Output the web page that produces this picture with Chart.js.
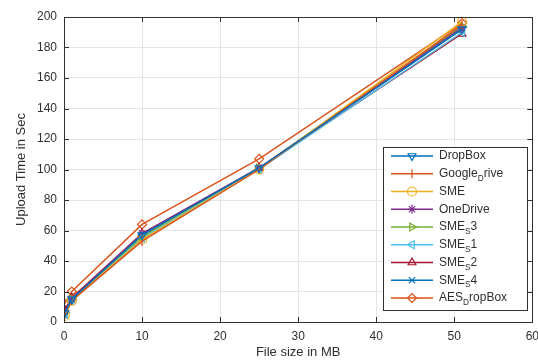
<!DOCTYPE html>
<html>
<head>
<meta charset="utf-8">
<script src="https://cdn.jsdelivr.net/npm/chart.js@4"></script>
<style>
  html, body { margin:0; padding:0; background:#fff; }
  #wrap { width:538px; height:360px; }
</style>
</head>
<body>
<div id="wrap"><canvas id="chart"></canvas></div>
<script>
// file sizes (MB)
const fileSizes = [0.1, 1, 10, 25, 51];
// series labels, "_{x}" marks a subscript
const seriesNames = ['DropBox', 'Google_{D}rive', 'SME', 'OneDrive', 'SME_{S}3', 'SME_{S}1', 'SME_{S}2', 'SME_{S}4', 'AES_{D}ropBox'];
const dropBox   = [6, 15, 57, 101, 192];
const googleD   = [5, 14, 53, 100, 195];
const sme       = [4, 14, 54, 100, 197];
const oneDrive  = [7, 15, 58, 101, 193];
const smeS3     = [6, 15, 56, 101, 194];
const smeS1     = [5, 14, 55, 100, 190];
const smeS2     = [8, 16, 58, 101, 189];
const smeS4     = [5, 15, 57, 101, 192];
const aesDrop   = [12, 20, 64, 107, 196];
const xTicks = [0, 10, 20, 30, 40, 50, 60];
const yTicks = [0, 20, 40, 60, 80, 100, 120, 140, 160, 180, 200];

const seriesValues = [dropBox, googleD, sme, oneDrive, smeS3, smeS1, smeS2, smeS4, aesDrop];
const colors = ['#0072BD','#D95319','#EDB120','#7E2F8E','#77AC30','#4DBEEE','#A2142F','#0072BD','#D95319'];
const markers = [
  {style:'triangle', rot:180}, {style:'line', rot:90}, {style:'circle', rot:0},
  {style:'star', rot:0}, {style:'triangle', rot:90}, {style:'triangle', rot:-90},
  {style:'triangle', rot:0}, {style:'crossRot', rot:0}, {style:'rectRot', rot:0}
];

const axisColor = '#303030';
const FONT = 'Helvetica, Arial, "Liberation Sans", sans-serif';

const datasets = seriesValues.map((vals, i) => ({
  label: seriesNames[i],
  data: vals.map((v, j) => ({x: fileSizes[j], y: v})),
  borderColor: colors[i],
  backgroundColor: 'rgba(0,0,0,0)',
  borderWidth: 1.4,
  pointStyle: markers[i].style,
  rotation: markers[i].rot,
  pointRadius: 4.5,
  pointBorderWidth: 1.2,
  pointBorderColor: colors[i],
  pointBackgroundColor: 'rgba(0,0,0,0)',
  showLine: true,
  tension: 0
}));

// draws text with "_{..}" subscripts
function drawRich(ctx, str, x, y, size) {
  const parts = str.split(/(_\{[^}]*\})/);
  parts.forEach(p => {
    if (!p) return;
    if (p.startsWith('_{')) {
      const t = p.slice(2, -1);
      ctx.font = (size * 0.7) + 'px ' + FONT;
      ctx.fillText(t, x, y + size * 0.4);
      x += ctx.measureText(t).width;
    } else {
      ctx.font = size + 'px ' + FONT;
      ctx.fillText(p, x, y);
      x += ctx.measureText(p).width;
    }
  });
}

const boxPlugin = {
  id: 'matlabBox',
  afterDatasetsDraw(chart) {
    const {ctx, chartArea: a, scales} = chart;
    ctx.save();
    ctx.strokeStyle = axisColor;
    ctx.lineWidth = 1;
    ctx.strokeRect(Math.round(a.left) + 0.5, Math.round(a.top) + 0.5, Math.round(a.right - a.left), Math.round(a.bottom - a.top));
    ctx.beginPath();
    xTicks.forEach(v => {
      const px = Math.round(scales.x.getPixelForValue(v)) + 0.5;
      ctx.moveTo(px, a.bottom); ctx.lineTo(px, a.bottom - 5);
      ctx.moveTo(px, a.top); ctx.lineTo(px, a.top + 5);
    });
    yTicks.forEach(v => {
      const py = Math.round(scales.y.getPixelForValue(v)) + 0.5;
      ctx.moveTo(a.left, py); ctx.lineTo(a.left + 5, py);
      ctx.moveTo(a.right, py); ctx.lineTo(a.right - 5, py);
    });
    ctx.stroke();

    // legend
    const lx = 383, ly = 147, lw = 144, lh = 163, step = 17.75;
    ctx.fillStyle = '#fff';
    ctx.fillRect(lx, ly, lw, lh);
    ctx.strokeStyle = axisColor;
    ctx.strokeRect(lx + 0.5, ly + 0.5, lw, lh);
    chart.data.datasets.forEach((ds, i) => {
      const y = ly + 9 + i * step;
      ctx.strokeStyle = ds.borderColor;
      ctx.lineWidth = 1.4;
      ctx.beginPath();
      ctx.moveTo(391, y); ctx.lineTo(433, y);
      ctx.stroke();
      ctx.fillStyle = 'rgba(0,0,0,0)';
      ctx.lineWidth = 1.2;
      Chart.helpers.drawPoint(ctx, {pointStyle: ds.pointStyle, rotation: ds.rotation, radius: 4.5, borderWidth: 1.2}, 412, y);
      ctx.fillStyle = axisColor;
      ctx.textBaseline = 'middle';
      drawRich(ctx, ds.label, 439, y, 12);
    });
    ctx.restore();
  }
};

new Chart(document.getElementById('chart'), {
  type: 'scatter',
  data: { datasets },
  plugins: [boxPlugin],
  options: {
    responsive: true,
    maintainAspectRatio: false,
    animation: false,
    layout: { padding: { top: 17, right: 5, bottom: 0, left: 0 } },
    plugins: { legend: { display: false }, tooltip: { enabled: false } },
    scales: {
      x: {
        type: 'linear', min: 0, max: 60,
        afterBuildTicks: s => { s.ticks = xTicks.map(v => ({value: v})); },
        afterFit: s => { s.height = 38; s.paddingLeft = 0; s.paddingRight = 0; },
        grid: { color: '#e5e5e5', drawTicks: false },
        border: { display: false },
        ticks: { color: axisColor, padding: 7, font: { size: 12, family: FONT }, maxRotation: 0 },
        title: { display: true, text: 'File size in MB', color: axisColor, font: { size: 13, family: FONT }, padding: { top: 0, bottom: 0 } }
      },
      y: {
        type: 'linear', min: 0, max: 200,
        afterBuildTicks: s => { s.ticks = yTicks.map(v => ({value: v})); },
        afterFit: s => { s.width = 64; s.paddingTop = 0; s.paddingBottom = 0; },
        grid: { color: '#e5e5e5', drawTicks: false },
        border: { display: false },
        ticks: { color: axisColor, padding: 7, font: { size: 12, family: FONT } },
        title: { display: true, text: 'Upload Time in Sec', color: axisColor, font: { size: 13, family: FONT }, padding: { top: 14, bottom: 0 } }
      }
    }
  }
});
</script>
</body>
</html>
